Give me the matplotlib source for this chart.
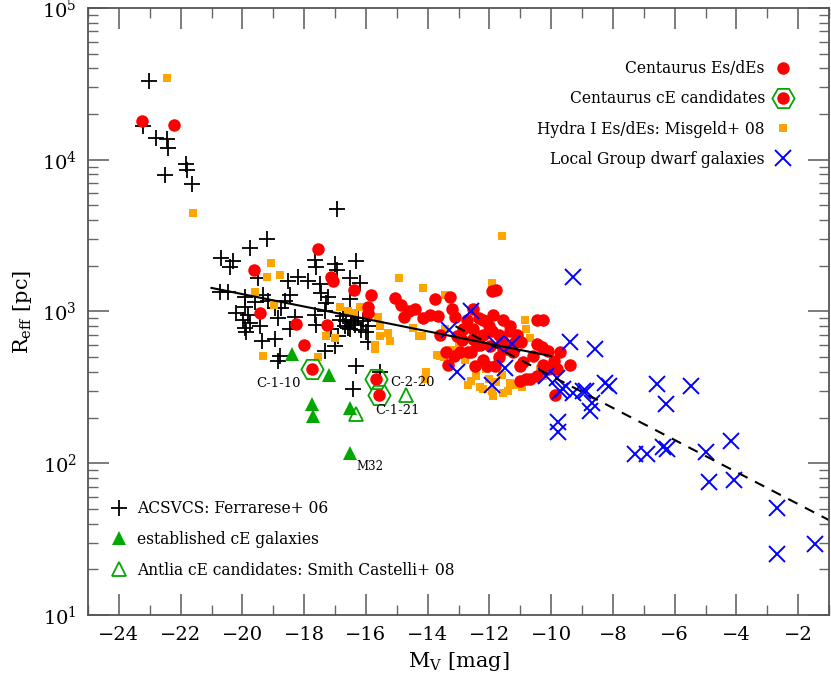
import matplotlib
matplotlib.use('Agg')
import matplotlib.pyplot as plt
from matplotlib.lines import Line2D
from matplotlib.legend_handler import HandlerTuple
from matplotlib.ticker import LogLocator, LogFormatterMathtext, MultipleLocator
import numpy as np

plt.rcParams['font.family'] = ['DejaVu Serif']
plt.rcParams['mathtext.fontset'] = 'dejavuserif'

# ACSVCS (Ferrarese+ 06): M_V, R_eff [pc]
acs_mv = [-23.04, -23.22, -22.80, -22.43, -22.40, -21.84, -21.78, -22.50, -21.62,
          -16.92, -19.19, -19.76, -20.68, -20.30, -20.41, -19.50, -18.52, -18.20,
          -17.87, -17.66, -17.60, -17.00, -17.49, -17.44, -20.74, -20.47, -19.93,
          -19.33, -19.17, -18.47, -18.63, -18.74, -18.95, -19.93, -19.82, -19.98,
          -19.76, -19.93, -19.87, -19.44, -18.85, -18.47, -19.38, -18.95, -17.66,
          -17.33, -17.60, -17.12, -17.00, -17.33, -18.79, -18.85, -17.28, -17.23,
          -16.95, -16.31, -16.52, -16.20, -16.52, -16.85, -16.63, -16.47, -16.36,
          -16.68, -16.52, -16.09, -15.93, -15.98, -16.90, -15.93, -16.31, -16.41,
          -15.55, -20.20, -19.60, -18.30, -16.75, -16.25, -16.58, -16.40, -16.15]
acs_re = [33000, 16600, 13900, 13700, 11900, 9340, 8600, 7950, 6930,
          4710, 3010, 2630, 2240, 2140, 1950, 1660, 1590, 1700,
          1590, 2200, 1950, 2050, 1510, 1330, 1350, 1350, 1250,
          1290, 1170, 1290, 1170, 1060, 1060, 1070, 950, 885,
          840, 780, 730, 800, 900, 762, 640, 655, 950,
          1000, 820, 762, 590, 550, 510, 470, 1140, 1250,
          1890, 2140, 1670, 1550, 1200, 885, 860, 885, 820,
          800, 762, 860, 800, 730, 690, 630, 437, 307,
          400, 970, 1150, 920, 930, 910, 780, 840, 760]

# Hydra I Es/dEs (Misgeld+ 08)
hyd_mv = [-22.45, -21.60, -19.06, -19.19, -18.77, -19.60, -18.99, -17.28, -17.00,
          -19.33, -17.55, -14.93, -14.14, -14.09, -16.85, -16.58, -16.20, -15.60,
          -15.55, -15.55, -15.23, -15.71, -14.29, -14.18, -14.04, -13.61, -13.44,
          -13.44, -11.60, -11.90, -10.85, -10.80, -10.69, -12.31, -11.88, -11.55,
          -11.34, -12.42, -11.77, -10.36, -10.26, -15.71, -15.28, -14.48, -13.70,
          -13.47, -11.93, -12.80, -12.10, -11.20, -13.00, -12.60, -11.60, -16.40,
          -12.70, -12.20, -11.40, -10.95, -13.20, -12.00]
hyd_re = [34300, 4450, 2100, 1700, 1750, 1350, 1110, 690, 665,
          510, 500, 1670, 1430, 357, 1070, 1000, 1070, 920,
          800, 690, 640, 562, 690, 690, 400, 510, 1290,
          762, 3120, 1550, 885, 762, 665, 320, 276, 290,
          340, 375, 345, 415, 375, 600, 720, 780, 520,
          500, 300, 480, 420, 330, 600, 350, 380, 980,
          330, 310, 300, 320, 560, 360]

# Centaurus Es/dEs
cen_mv = [-23.24, -22.20, -17.56, -19.63, -17.12, -17.06, -19.44, -18.25, -17.26,
          -18.00, -16.39, -15.85, -15.93, -15.93, -15.06, -14.85, -14.77, -14.42,
          -13.77, -13.28, -14.14, -13.93, -13.66, -13.20, -13.10, -13.04, -13.14,
          -13.33, -11.93, -11.77, -12.53, -12.74, -12.20, -11.88, -11.55, -11.34,
          -11.34, -10.47, -10.26, -12.53, -12.53, -11.93, -12.69, -10.96, -10.47,
          -10.09, -9.72, -9.39, -12.47, -12.09, -11.82, -11.55, -11.23, -10.90,
          -10.58, -10.26, -10.09, -9.82, -11.00, -10.69, -9.88, -12.96, -13.39,
          -12.58, -11.99, -11.44, -11.00, -10.80, -10.47, -12.84, -12.20, -11.60,
          -14.60, -12.30, -11.10, -12.00, -11.70, -11.20, -12.90, -12.40, -12.20,
          -11.70, -10.30, -9.90, -13.60, -12.35]
cen_re = [18000, 17000, 2600, 1888, 1700, 1590, 970, 830, 820,
          600, 1395, 1280, 1070, 980, 1220, 1110, 920, 1040,
          1200, 1250, 910, 950, 930, 1040, 920, 685, 510,
          445, 1370, 1395, 1031, 885, 885, 950, 885, 800,
          740, 885, 885, 762, 655, 740, 540, 625, 610,
          550, 540, 445, 437, 437, 437, 562, 540, 465,
          510, 445, 415, 415, 348, 357, 283, 540, 540,
          540, 590, 562, 437, 357, 375, 762, 700, 650,
          1000, 600, 700, 800, 700, 620, 650, 600, 480,
          500, 580, 470, 700, 900]

# Centaurus cE candidates
cec_mv = [-17.74, -15.66, -15.57]
cec_re = [420, 360, 283]
cec_names = ['C-1-10', 'C-2-20', 'C-1-21']

# Local Group dwarf galaxies
lg_mv = [-9.28, -9.39, -8.58, -8.26, -8.11, -6.58, -5.48, -6.29, -8.74, -9.79,
         -9.79, -7.28, -6.90, -6.39, -6.26, -5.00, -4.18, -4.89, -4.07, -2.67,
         -2.67, -1.46, -10.15, -9.82, -9.61, -9.72, -9.28, -8.96, -8.87, -8.69,
         -12.58, -11.79, -11.28, -11.48, -11.91, -13.06, -13.30]
lg_re = [1680, 633, 568, 337, 323, 335, 323, 245, 220, 188,
         160, 115, 115, 127, 124, 118, 140, 75, 77, 51,
         25.2, 29.5, 375, 365, 307, 298, 290, 298, 300, 250,
         1015, 610, 615, 427, 330, 400, 755]

# established cE galaxies
ce_mv = [-18.39, -17.20, -17.74, -17.71, -16.52, -16.50]
ce_re = [525, 380, 245, 205, 230, 116]

# Antlia cE candidates (Smith Castelli+ 08)
ant_mv = [-14.71, -16.33]
ant_re = [280, 212]

# relations (solid: Es/dEs, dashed: dwarfs)
fit1_mv = [-21.0, -10.0]
fit1_re = [1430, 508]
fit2_mv = [-13.1, -1.0]
fit2_re = [800, 42.2]

RED = '#ff0000'
ORANGE = '#ffa500'
BLUE = '#0000ff'
GREEN = '#00a800'

fig = plt.figure(figsize=(8.31, 6.81), dpi=100)
ax = fig.add_axes([0.1059, 0.0969, 0.8917, 0.8914])

ax.plot(acs_mv, acs_re, ls='none', marker='+', ms=11, mew=1.3, color='black')
ax.plot(hyd_mv, hyd_re, ls='none', marker='s', ms=6, mew=0, color=ORANGE)
ax.plot(cen_mv, cen_re, ls='none', marker='o', ms=9, mew=0, color=RED)
ax.plot(lg_mv, lg_re, ls='none', marker='x', ms=11, mew=1.4, color=BLUE)
ax.plot(fit1_mv, fit1_re, ls='-', lw=1.5, color='black')
ax.plot(fit2_mv, fit2_re, ls=(0, (5, 4)), lw=1.5, color='black')
ax.plot(cec_mv, cec_re, ls='none', marker='o', ms=9, mew=0, color=RED)
ax.plot(cec_mv, cec_re, ls='none', marker='H', ms=16, mew=1.3, mfc='none', mec=GREEN)
ax.plot(ce_mv, ce_re, ls='none', marker='^', ms=10, mew=0, color=GREEN)
ax.plot(ant_mv, ant_re, ls='none', marker='^', ms=10, mew=1.3, mfc='none', mec=GREEN)

# labels of the cE candidates and M32
ax.annotate(cec_names[0], (cec_mv[0], cec_re[0]), xytext=(-40, -13), textcoords='offset points',
            fontsize=9.5)
ax.annotate(cec_names[1], (cec_mv[1], cec_re[1]), xytext=(10, -5), textcoords='offset points',
            fontsize=9.5)
ax.annotate(cec_names[2], (cec_mv[2], cec_re[2]), xytext=(-3, -14), textcoords='offset points',
            fontsize=9.5)
ax.annotate('M32', (ce_mv[5], ce_re[5]), xytext=(4, -12), textcoords='offset points',
            fontsize=8.5)

ax.set_xlim(-25, -1)
ax.set_ylim(10, 1e5)
ax.set_yscale('log')
ax.xaxis.set_major_locator(MultipleLocator(2))
ax.xaxis.set_minor_locator(MultipleLocator(1))
ax.yaxis.set_major_locator(LogLocator(base=10))
ax.yaxis.set_minor_locator(LogLocator(base=10, subs=np.arange(2, 10)))
ax.yaxis.set_major_formatter(LogFormatterMathtext())
ax.tick_params(which='both', direction='in', top=True, right=True, color='#666666',
               labelsize=14)
ax.tick_params(which='major', length=15, width=1.2)
ax.tick_params(which='minor', length=7, width=1.0)
ax.tick_params(axis='x', pad=8)
ax.tick_params(axis='y', pad=8)
for sp in ax.spines.values():
    sp.set_color('#555555')
    sp.set_linewidth(1.3)

ax.set_xlabel(r'$\mathregular{M_V}$ [mag]', fontsize=15, labelpad=4)
ax.set_ylabel(r'$\mathregular{R_{eff}}$ [pc]', fontsize=15, labelpad=6)

h_tr = [Line2D([], [], ls='none', marker='o', ms=9, mew=0, color=RED),
        (Line2D([], [], ls='none', marker='o', ms=9, mew=0, color=RED),
         Line2D([], [], ls='none', marker='H', ms=16, mew=1.3, mfc='none', mec=GREEN)),
        Line2D([], [], ls='none', marker='s', ms=6, mew=0, color=ORANGE),
        Line2D([], [], ls='none', marker='x', ms=11, mew=1.4, color=BLUE)]
l_tr = ['Centaurus Es/dEs', 'Centaurus cE candidates', 'Hydra I Es/dEs: Misgeld+ 08',
        'Local Group dwarf galaxies']
leg1 = ax.legend(h_tr, l_tr, loc='upper right', bbox_to_anchor=(0.97, 0.937),
                 frameon=False, markerfirst=False, fontsize=11.2, handlelength=1.2,
                 handletextpad=0.6, labelspacing=0.85,
                 handler_map={tuple: HandlerTuple(ndivide=1, pad=0)})
ax.add_artist(leg1)

h_bl = [Line2D([], [], ls='none', marker='+', ms=11, mew=1.3, color='black'),
        Line2D([], [], ls='none', marker='^', ms=10, mew=0, color=GREEN),
        Line2D([], [], ls='none', marker='^', ms=10, mew=1.3, mfc='none', mec=GREEN)]
l_bl = ['ACSVCS: Ferrarese+ 06', 'established cE galaxies',
        'Antlia cE candidates: Smith Castelli+ 08']
ax.legend(h_bl, l_bl, loc='lower left', bbox_to_anchor=(0.01, 0.037), frameon=False,
          fontsize=11.2, handlelength=1.2, handletextpad=0.6, labelspacing=0.88)

fig.savefig('out.png', dpi=100)
